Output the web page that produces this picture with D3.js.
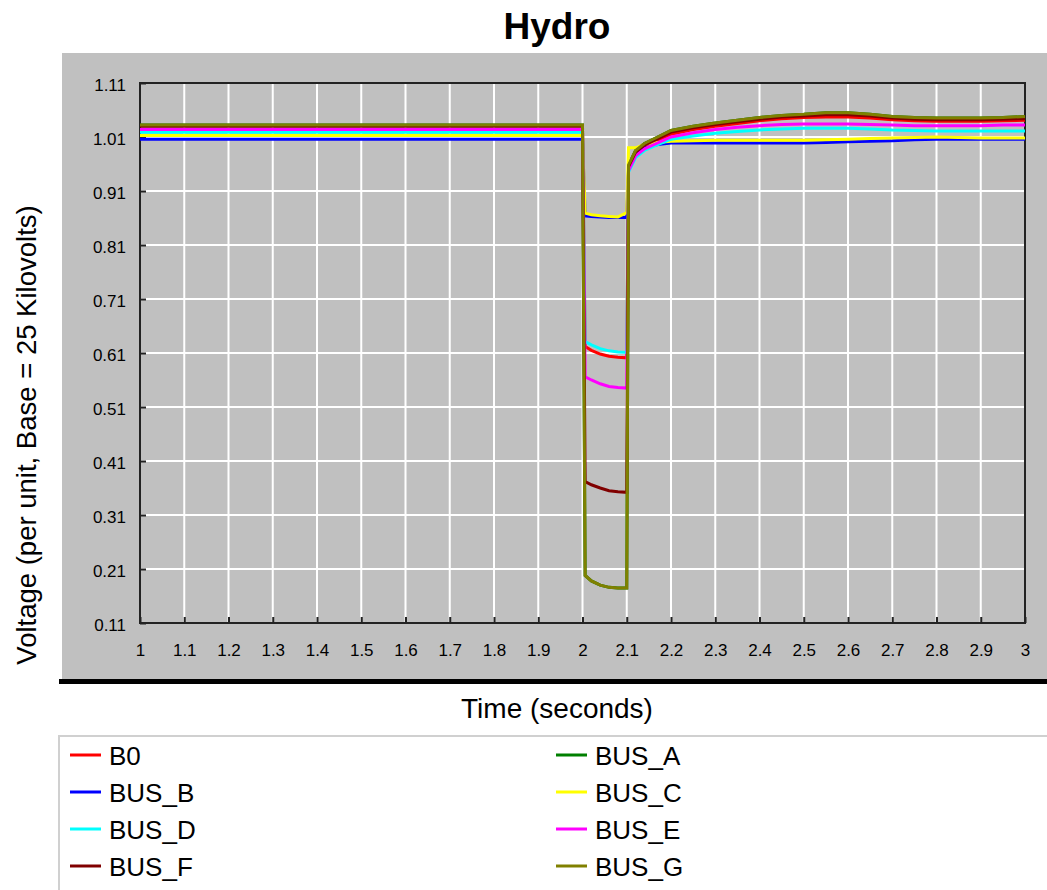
<!DOCTYPE html>
<html>
<head>
<meta charset="utf-8">
<title>Hydro</title>
<script src="https://d3js.org/d3.v7.min.js"></script>
<style>
  body { margin: 0; background: #fff; }
  text { font-family: "Liberation Sans", Arial, sans-serif; fill: #000; }
</style>
</head>
<body>
<svg id="chart" width="1047" height="890"></svg>
<script>
// time samples (seconds) shared by every bus
var times = [1.0, 2.0, 2.006, 2.02, 2.04, 2.06, 2.08, 2.1, 2.104, 2.12, 2.14, 2.17, 2.2, 2.25, 2.3,
             2.35, 2.4, 2.45, 2.5, 2.55, 2.6, 2.65, 2.7, 2.75, 2.8, 2.85, 2.9, 2.95, 3.0];

// per-unit voltages
var b0   = [1.024, 1.024, 0.622, 0.615, 0.608, 0.604, 0.602, 0.601, 0.950, 0.978, 0.992, 1.004, 1.015, 1.024, 1.030,
            1.035, 1.040, 1.044, 1.046, 1.047, 1.047, 1.045, 1.042, 1.040, 1.039, 1.039, 1.039, 1.040, 1.041];
var busA = [1.032, 1.032, 0.198, 0.188, 0.180, 0.176, 0.175, 0.175, 0.958, 0.985, 0.998, 1.010, 1.022, 1.030, 1.036,
            1.041, 1.046, 1.050, 1.052, 1.055, 1.055, 1.052, 1.048, 1.046, 1.045, 1.045, 1.045, 1.046, 1.048];
var busB = [1.006, 1.006, 0.864, 0.863, 0.862, 0.861, 0.861, 0.861, 0.950, 0.975, 0.990, 0.996, 0.999, 0.999, 0.999,
            0.999, 0.999, 0.999, 0.999, 1.000, 1.001, 1.002, 1.003, 1.005, 1.006, 1.006, 1.006, 1.006, 1.006];
var busC = [1.013, 1.013, 0.869, 0.866, 0.864, 0.863, 0.862, 0.870, 0.990, 0.990, 0.996, 1.000, 1.002, 1.003, 1.004,
            1.004, 1.004, 1.004, 1.004, 1.005, 1.006, 1.007, 1.008, 1.009, 1.010, 1.009, 1.008, 1.008, 1.008];
var busD = [1.019, 1.019, 0.631, 0.625, 0.618, 0.614, 0.612, 0.611, 0.945, 0.972, 0.985, 0.996, 1.006, 1.012, 1.017,
            1.020, 1.023, 1.025, 1.026, 1.026, 1.026, 1.025, 1.023, 1.022, 1.021, 1.021, 1.021, 1.021, 1.021];
var busE = [1.024, 1.024, 0.566, 0.560, 0.553, 0.548, 0.546, 0.545, 0.948, 0.975, 0.988, 0.999, 1.010, 1.018, 1.024,
            1.028, 1.031, 1.033, 1.034, 1.034, 1.034, 1.033, 1.032, 1.031, 1.031, 1.031, 1.031, 1.032, 1.032];
var busF = [1.030, 1.030, 0.372, 0.366, 0.360, 0.355, 0.353, 0.352, 0.955, 0.982, 0.995, 1.007, 1.019, 1.027, 1.033,
            1.038, 1.043, 1.047, 1.049, 1.051, 1.051, 1.049, 1.045, 1.043, 1.042, 1.042, 1.042, 1.043, 1.044];
var busG = [1.032, 1.032, 0.198, 0.188, 0.180, 0.176, 0.175, 0.175, 0.958, 0.985, 0.998, 1.010, 1.022, 1.030, 1.036,
            1.041, 1.046, 1.050, 1.052, 1.055, 1.055, 1.052, 1.048, 1.046, 1.045, 1.045, 1.045, 1.046, 1.048];

var names  = ["B0", "BUS_A", "BUS_B", "BUS_C", "BUS_D", "BUS_E", "BUS_F", "BUS_G"];
var values = [b0, busA, busB, busC, busD, busE, busF, busG];
var colors = ["#ff0000", "#007f00", "#0000ff", "#ffff00", "#00ffff", "#ff00ff", "#800000", "#808000"];

var xTicks = [1, 1.1, 1.2, 1.3, 1.4, 1.5, 1.6, 1.7, 1.8, 1.9, 2, 2.1, 2.2, 2.3, 2.4, 2.5, 2.6, 2.7, 2.8, 2.9, 3];
var xLabels = ["1", "1.1", "1.2", "1.3", "1.4", "1.5", "1.6", "1.7", "1.8", "1.9", "2",
               "2.1", "2.2", "2.3", "2.4", "2.5", "2.6", "2.7", "2.8", "2.9", "3"];
var yTicks = [0.11, 0.21, 0.31, 0.41, 0.51, 0.61, 0.71, 0.81, 0.91, 1.01, 1.11];
var yLabels = ["0.11", "0.21", "0.31", "0.41", "0.51", "0.61", "0.71", "0.81", "0.91", "1.01", "1.11"];

var svg = d3.select("#chart");

var plot = {left: 140, top: 83, right: 1025, bottom: 623};

var x = d3.scaleLinear().domain([1, 3]).range([plot.left, plot.right]);
var y = d3.scaleLinear().domain([0.11, 1.11]).range([plot.bottom, plot.top]);

// title
svg.append("text")
  .attr("x", 557).attr("y", 39)
  .attr("text-anchor", "middle")
  .style("font-size", "37px").style("font-weight", "bold")
  .text("Hydro");

// gray panel + dark shadow bar
svg.append("rect")
  .attr("x", 62).attr("y", 53).attr("width", 1000).attr("height", 627)
  .attr("fill", "#c0c0c0");
svg.append("rect")
  .attr("x", 59).attr("y", 679).attr("width", 1000).attr("height", 5)
  .attr("fill", "#000");

// grid
svg.append("g").selectAll("line").data(xTicks.slice(1, -1)).enter().append("line")
  .attr("x1", function(d) { return x(d); }).attr("x2", function(d) { return x(d); })
  .attr("y1", plot.top).attr("y2", plot.bottom)
  .attr("stroke", "#fff").attr("stroke-width", 2);
svg.append("g").selectAll("line").data(yTicks.slice(1, -1)).enter().append("line")
  .attr("x1", plot.left).attr("x2", plot.right)
  .attr("y1", function(d) { return y(d); }).attr("y2", function(d) { return y(d); })
  .attr("stroke", "#fff").attr("stroke-width", 2);

// axes (ticks point inwards)
var xAxis = svg.append("g")
  .attr("transform", "translate(0," + plot.bottom + ")")
  .call(d3.axisBottom(x).tickValues(xTicks).tickSize(-6).tickPadding(14)
          .tickFormat(function(d, i) { return xLabels[i]; }));
var yAxis = svg.append("g")
  .attr("transform", "translate(" + plot.left + ",0)")
  .call(d3.axisLeft(y).tickValues(yTicks).tickSize(-6).tickPadding(14)
          .tickFormat(function(d, i) { return yLabels[i]; }));
[xAxis, yAxis].forEach(function(g) {
  g.select(".domain").remove();
  g.selectAll(".tick line").attr("stroke", "#222").attr("stroke-width", 2);
  g.selectAll(".tick text").style("font-size", "17px").attr("fill", "#111")
    .style("font-family", "'Liberation Sans', Arial, sans-serif");
});
xAxis.selectAll(".tick text").attr("dy", "1.1em");
yAxis.selectAll(".tick text").attr("dy", "0.45em");

// frame
svg.append("rect")
  .attr("x", plot.left).attr("y", plot.top)
  .attr("width", plot.right - plot.left).attr("height", plot.bottom - plot.top)
  .attr("fill", "none").attr("stroke", "#222").attr("stroke-width", 2);

// series
var line = d3.line()
  .x(function(d, i) { return x(times[i]); })
  .y(function(d) { return y(d); });

svg.append("g").selectAll("path").data(values).enter().append("path")
  .attr("d", line)
  .attr("fill", "none")
  .attr("stroke", function(d, i) { return colors[i]; })
  .attr("stroke-width", 3)
  .attr("stroke-linejoin", "miter");

// axis titles
svg.append("text")
  .attr("x", 557).attr("y", 718)
  .attr("text-anchor", "middle")
  .style("font-size", "28px")
  .text("Time (seconds)");
svg.append("text")
  .attr("transform", "translate(36,435) rotate(-90)")
  .attr("text-anchor", "middle")
  .style("font-size", "27.5px")
  .text("Voltage (per unit, Base = 25 Kilovolts)");

// legend
svg.append("rect")
  .attr("x", 59).attr("y", 736).attr("width", 1000).attr("height", 200)
  .attr("fill", "#fff").attr("stroke", "#d0d0d0").attr("stroke-width", 2);

var legend = svg.append("g").selectAll("g").data(names).enter().append("g")
  .attr("transform", function(d, i) {
    var col = i % 2, row = Math.floor(i / 2);
    return "translate(" + (col === 0 ? 70 : 556) + "," + (755 + row * 37) + ")";
  });
legend.append("line")
  .attr("x1", 0).attr("x2", 31).attr("y1", 0).attr("y2", 0)
  .attr("stroke", function(d, i) { return colors[i]; })
  .attr("stroke-width", 3);
legend.append("text")
  .attr("x", 39).attr("y", 10)
  .style("font-size", "26px")
  .text(function(d) { return d; });
</script>
</body>
</html>
